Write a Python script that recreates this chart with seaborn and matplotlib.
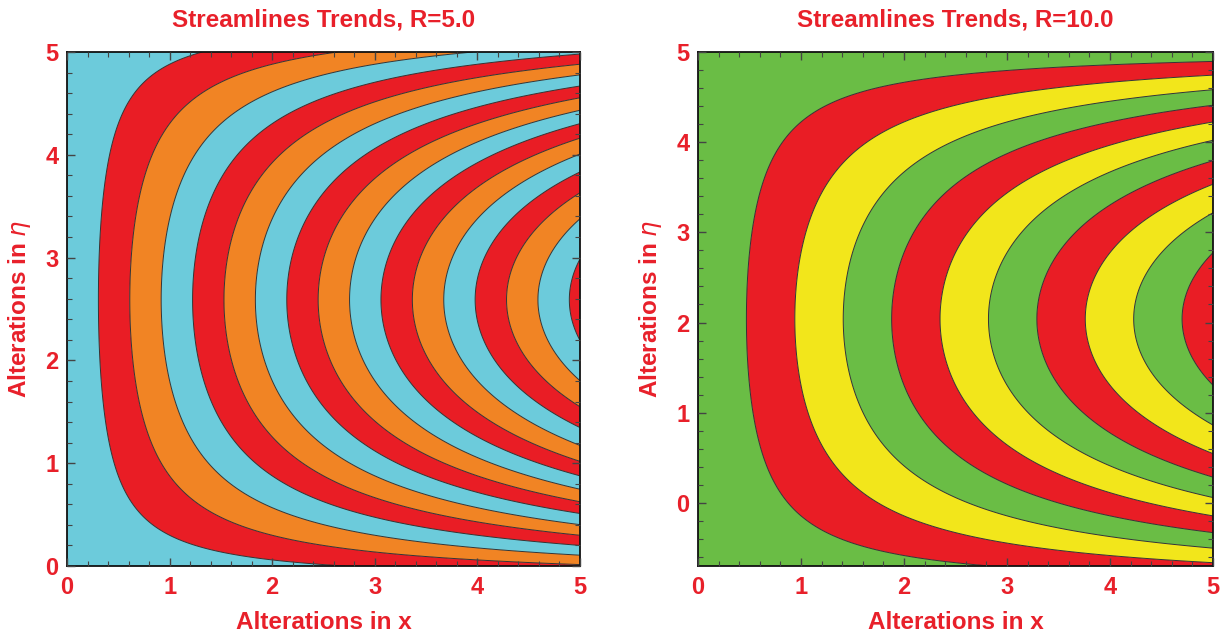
import numpy as np
import matplotlib
matplotlib.use("Agg")
import matplotlib.pyplot as plt
from matplotlib.ticker import MultipleLocator
import seaborn as sns

# Panel settings
R_VALUES = [5.0, 10.0]
X_RANGE = (0.0, 5.0)
ETA_RANGES = [(0.0, 5.0), (-0.7, 5.0)]
# streamfunction psi = x * (eta - a)(b - eta) / ((b - a) / 2)^2
PROFILE_ROOTS = [(-0.16, 5.34), (-0.96, 5.04)]
LEVEL_STEPS = [0.306, 0.47]
LEVEL_COUNTS = [16, 10]
BAND_COLORS = [
    ["#6ccbdb", "#e91d25", "#f18424"],
    ["#6abd45", "#e91d25", "#f2e61b"],
]
X_TICKS = [0, 1, 2, 3, 4, 5]
Y_TICKS = [0, 1, 2, 3, 4, 5]

TEXT_RED = "#e8202a"
FONT = ["Liberation Sans", "DejaVu Sans"]

sns.set_theme(style="ticks")
plt.rcParams["font.family"] = FONT
plt.rcParams["mathtext.fontset"] = "dejavusans"

fig = plt.figure(figsize=(12.25, 6.32), dpi=100)
positions = [
    [67 / 1225, 1 - 566 / 632, (580 - 67) / 1225, (566 - 52) / 632],
    [698 / 1225, 1 - 566 / 632, (1213 - 698) / 1225, (566 - 52) / 632],
]

for i, R in enumerate(R_VALUES):
    ax = fig.add_axes(positions[i])
    ax.set_axisbelow(False)
    e0, e1 = ETA_RANGES[i]
    a, b = PROFILE_ROOTS[i]
    x = np.linspace(X_RANGE[0], X_RANGE[1], 600)
    eta = np.linspace(e0, e1, 600)
    X, E = np.meshgrid(x, eta)
    half = (b - a) / 2.0
    psi = X * (E - a) * (b - E) / half ** 2

    levels = LEVEL_STEPS[i] * np.arange(1, LEVEL_COUNTS[i] + 1)
    bounds = np.concatenate([[psi.min() - 1], levels, [psi.max() + 1]])
    cols = [BAND_COLORS[i][j % 3] for j in range(len(bounds) - 1)]
    ax.contourf(X, E, psi, levels=bounds, colors=cols, antialiased=True)
    ax.contour(X, E, psi, levels=levels, colors="#333333", linewidths=0.7)

    ax.set_xlim(*X_RANGE)
    ax.set_ylim(e0, e1)
    ax.set_xticks(X_TICKS)
    ax.set_yticks(Y_TICKS)
    ax.xaxis.set_minor_locator(MultipleLocator(0.2))
    ax.yaxis.set_minor_locator(MultipleLocator(0.2))
    ax.tick_params(which="both", direction="in", top=True, right=True,
                   color="#444444")
    ax.tick_params(which="major", length=6, width=1.0)
    ax.tick_params(which="minor", length=3.5, width=0.8)
    ax.tick_params(axis="x", which="major", pad=7)
    ax.tick_params(axis="y", which="major", pad=6)
    for lab in ax.get_xticklabels() + ax.get_yticklabels():
        lab.set_color(TEXT_RED)
        lab.set_fontweight("bold")
        lab.set_fontsize(17)
    for sp in ax.spines.values():
        sp.set_color("#111111")
        sp.set_linewidth(1.3)

    ax.set_title(f"Streamlines Trends, R={R:.1f}", color=TEXT_RED,
                 fontsize=17.5, fontweight="bold", pad=18)
    ax.set_xlabel("Alterations in x", color=TEXT_RED, fontsize=17.5,
                  fontweight="bold", labelpad=9)
    ax.set_ylabel(r"Alterations in $\eta$", color=TEXT_RED, fontsize=17.5,
                  fontweight="bold", labelpad=9)

fig.savefig("out.png", dpi=100, facecolor="white")
